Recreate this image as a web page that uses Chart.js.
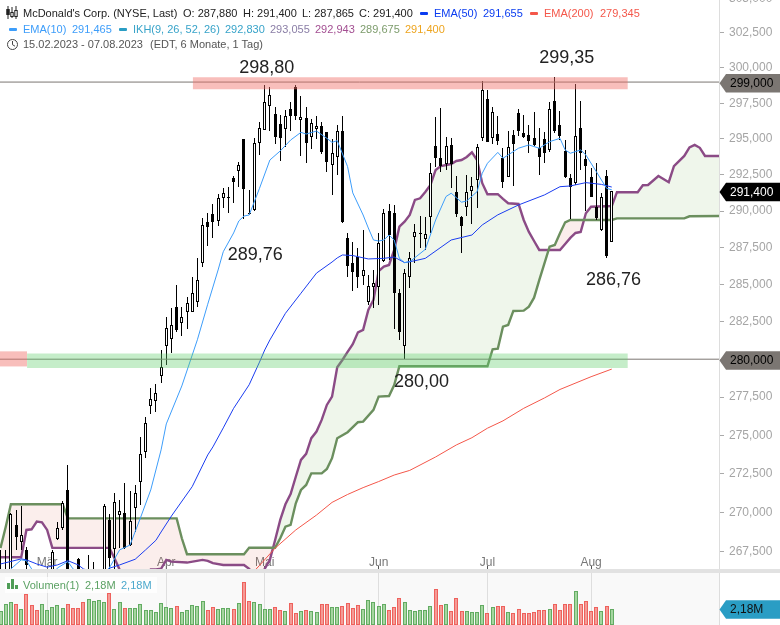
<!DOCTYPE html>
<html>
<head>
<meta charset="utf-8">
<title>McDonald's Corp.</title>
<script src="https://cdn.jsdelivr.net/npm/chart.js@4/dist/chart.umd.min.js"></script>
<style>
    body { margin: 0; background: #fff; font-family: "Liberation Sans", Arial, sans-serif; font-size: 11px; overflow: hidden; }
    canvas { position: absolute; left: 0; }
    #price { top: 0; }
    .t { position: absolute; white-space: pre; line-height: 13px; }
    .dash { position: absolute; width: 8px; height: 3px; border-radius: 1px; }
    #strip { position: absolute; left: 0; top: 569px; width: 780px; height: 4px; background: #e2e2e2; }
    #volbg { position: absolute; left: 0; top: 573px; width: 719px; height: 52px; background: #f9f9f9; border-right: 1px solid #ddd; }
    #volbox { position: absolute; left: 5px; top: 577px; width: 152px; height: 16px; background: rgba(255,255,255,0.75); }
    svg { position: absolute; }
</style>
</head>
<body>
<div id="volbg"></div>
<canvas id="price" width="780" height="570"></canvas>
<div id="strip"></div>
<canvas id="volume" width="780" height="52" style="top:573px"></canvas>
<div id="volbox"></div>

<svg style="left:6px;top:6px" width="12" height="13" viewBox="0 0 12 13" fill="none" stroke="#222">
    <path d="M2 0v13M6 1v11M10 0v13"/>
    <rect x="0.8" y="3.5" width="2.4" height="5" fill="#222"/>
    <rect x="4.8" y="6.5" width="2.4" height="4" fill="#fff"/>
    <rect x="8.8" y="4.5" width="2.4" height="6" fill="#fff"/>
</svg>
<span class="t" style="left:23px;top:7px;color:#222">McDonald's Corp. (NYSE, Last)</span>
<span class="t" style="left:183px;top:7px;color:#222">O: 287,880</span>
<span class="t" style="left:243px;top:7px;color:#222">H: 291,400</span>
<span class="t" style="left:302px;top:7px;color:#222">L: 287,865</span>
<span class="t" style="left:359px;top:7px;color:#222">C: 291,400</span>
<div class="dash" style="left:420px;top:12px;background:#0a3cf0"></div>
<span class="t" style="left:434px;top:7px;color:#0a3cf0">EMA(50)</span>
<span class="t" style="left:483px;top:7px;color:#0a3cf0">291,655</span>
<div class="dash" style="left:530px;top:12px;background:#f4574a"></div>
<span class="t" style="left:544px;top:7px;color:#f4574a">EMA(200)</span>
<span class="t" style="left:600px;top:7px;color:#f4574a">279,345</span>

<div class="dash" style="left:9px;top:28px;background:#3d9dfa"></div>
<span class="t" style="left:23px;top:23px;color:#3d9dfa">EMA(10)</span>
<span class="t" style="left:72px;top:23px;color:#3d9dfa">291,465</span>
<div class="dash" style="left:119px;top:28px;background:#2a9dc4"></div>
<span class="t" style="left:133px;top:23px;color:#37a3c9">IKH(9, 26, 52, 26)</span>
<span class="t" style="left:225px;top:23px;color:#37a3c9">292,830</span>
<span class="t" style="left:270px;top:23px;color:#8a7ea6">293,055</span>
<span class="t" style="left:315px;top:23px;color:#a34f92">292,943</span>
<span class="t" style="left:360px;top:23px;color:#7d9c6c">289,675</span>
<span class="t" style="left:405px;top:23px;color:#eda41e">291,400</span>

<svg style="left:6px;top:38px" width="13" height="13" viewBox="0 0 13 13" fill="none" stroke="#444">
    <circle cx="6.5" cy="6.5" r="5"/>
    <path d="M6.5 3v3.7l2.5 1.5"/>
</svg>
<span class="t" style="left:23px;top:38px;color:#555">15.02.2023 - 07.08.2023</span>
<span class="t" style="left:150px;top:38px;color:#555">(EDT, 6 Monate, 1 Tag)</span>

<svg style="left:7px;top:579px" width="12" height="10" fill="#4f9d57">
    <rect x="0" y="4" width="3" height="6"/><rect x="4" y="0" width="3" height="10"/><rect x="8" y="6" width="3" height="4"/>
</svg>
<span class="t" style="left:23px;top:579px;color:#5ba163">Volumen(1)</span>
<span class="t" style="left:85px;top:579px;color:#5ba163">2,18M</span>
<span class="t" style="left:121px;top:579px;color:#4ba8cc">2,18M</span>

<script>
// Candles, one entry per trading day from 15.02.2023 to 07.08.2023
const opens = [265.2, 265.5, 265.5, 269.22, 268.14, 267.63, 265.9, 265.0, 264.4, 264.3,
    265.4, 268.33, 269.03, 271.46, 265.5, 267.06, 265.9, 265.3, 265.5, 265.4,
    265.5, 269.54, 267.69, 269.85, 269.98, 267.95, 270.30, 271.97, 273.92, 276.92,
    277.24, 278.89, 280.88, 281.35, 283.48, 282.41, 283.15, 283.15, 283.82, 286.46,
    289.25, 289.80, 289.32, 290.90, 290.93, 292.29, 292.77, 294.99, 289.89, 290.08,
    294.72, 295.62, 297.31, 296.75, 296.05, 295.70, 297.10, 298.65, 296.33, 296.47,
    295.13, 295.70, 295.91, 295.48, 293.19, 293.74, 295.55, 288.16, 286.46, 286.86,
    285.58, 283.82, 284.83, 284.83, 286.61, 290.00, 289.85, 284.41, 280.90, 285.49,
    288.20, 288.47, 288.07, 289.62, 294.51, 293.65, 293.27, 294.58, 291.30, 289.58,
    290.26, 291.41, 292.15, 295.08, 297.78, 295.08, 295.32, 293.65, 292.33, 295.27,
    296.80, 295.39, 295.27, 295.04, 294.35, 294.97, 294.23, 297.66, 295.98, 294.16,
    292.26, 291.92, 295.74, 293.59, 292.33, 290.26, 288.71, 292.42, 287.88];
const highs = [267.63, 267.63, 270.00, 270.17, 270.43, 267.82, 266.2, 265.8, 265.6, 266.0,
    267.63, 269.41, 270.75, 273.07, 266.1, 267.1, 266.2, 267.31, 266.87, 266.3,
    270.56, 269.92, 271.27, 270.82, 271.91, 271.39, 271.78, 274.89, 276.20, 278.10,
    278.36, 280.62, 282.82, 283.42, 284.97, 283.48, 284.16, 285.51, 286.80, 289.53,
    289.87, 290.50, 291.18, 291.59, 291.66, 292.42, 293.40, 295.00, 291.46, 295.06,
    296.19, 298.80, 298.65, 297.24, 296.68, 297.03, 297.59, 298.78, 298.02, 297.24,
    296.40, 296.61, 296.19, 295.50, 294.99, 295.98, 296.61, 288.50, 287.88, 287.47,
    288.71, 285.64, 285.98, 288.50, 290.12, 290.47, 290.42, 284.68, 286.03, 287.22,
    289.12, 289.66, 289.58, 293.33, 296.56, 297.17, 295.15, 295.04, 292.42, 289.66,
    292.49, 292.38, 294.65, 299.08, 298.44, 297.26, 296.63, 294.35, 295.55, 295.62,
    297.13, 296.68, 295.98, 296.91, 295.74, 295.46, 297.57, 299.35, 296.98, 294.92,
    292.56, 298.85, 297.68, 294.23, 292.96, 293.33, 291.24, 292.84, 291.40];
const lows = [264.8, 264.9, 265.2, 267.63, 267.63, 266.05, 264.6, 263.9, 263.8, 263.9,
    265.0, 268.27, 268.90, 265.2, 264.5, 265.0, 264.7, 264.6, 264.8, 265.0,
    265.1, 266.24, 266.24, 267.75, 267.70, 267.88, 268.77, 270.49, 273.53, 276.40,
    276.53, 278.43, 279.62, 280.42, 281.82, 281.55, 282.01, 283.15, 283.48, 286.19,
    287.61, 288.16, 288.98, 290.21, 289.87, 290.55, 291.66, 289.46, 289.76, 290.01,
    293.88, 295.62, 295.55, 294.65, 293.47, 294.44, 295.55, 296.33, 293.81, 293.33,
    294.30, 294.99, 293.95, 292.70, 291.11, 292.49, 289.18, 285.51, 284.56, 284.76,
    284.97, 283.62, 283.42, 283.62, 286.54, 286.66, 281.99, 281.28, 280.00, 284.74,
    286.48, 287.45, 287.34, 288.48, 293.07, 292.72, 292.84, 291.57, 289.62, 287.11,
    289.68, 289.10, 290.23, 294.88, 294.81, 294.65, 294.58, 291.57, 292.33, 291.75,
    295.20, 295.04, 294.00, 294.50, 292.49, 293.31, 294.11, 295.39, 294.92, 292.26,
    289.46, 291.80, 292.84, 290.00, 290.99, 289.39, 288.66, 286.76, 287.865];
const closes = [266.1, 266.0, 269.92, 268.45, 268.58, 266.68, 265.0, 264.4, 265.2, 265.2,
    267.5, 269.03, 270.62, 265.6, 265.2, 265.8, 265.6, 265.7, 265.9, 265.8,
    270.43, 267.12, 270.69, 270.11, 267.75, 269.47, 271.27, 273.79, 275.80, 277.37,
    277.77, 279.49, 282.08, 282.28, 281.95, 282.82, 283.76, 284.43, 285.31, 289.05,
    288.91, 289.25, 290.90, 291.25, 290.95, 292.01, 293.19, 291.53, 289.80, 294.72,
    295.77, 297.59, 298.09, 295.13, 295.06, 296.61, 296.61, 296.61, 296.54, 294.72,
    296.12, 295.91, 294.09, 293.40, 294.02, 295.55, 289.25, 286.25, 285.85, 285.51,
    285.98, 284.90, 285.10, 287.82, 289.85, 288.36, 284.45, 281.83, 285.76, 286.77,
    288.55, 288.50, 288.41, 292.61, 293.65, 293.14, 294.51, 293.27, 289.80, 289.00,
    291.30, 291.73, 294.42, 298.44, 294.81, 296.87, 294.88, 292.03, 294.46, 294.65,
    295.58, 295.11, 294.85, 294.58, 293.77, 294.04, 297.08, 295.55, 295.20, 292.33,
    291.68, 295.20, 294.00, 293.11, 290.99, 289.51, 290.95, 286.95, 291.40];

// Volume in millions, same days as the candles
const volumes = [1.95, 2.88, 3.15, 2.88, 2.18, 4.27, 2.74, 2.04, 2.88, 2.04,
    2.46, 2.74, 2.32, 2.88, 2.32, 2.32, 3.15, 3.57, 3.29, 3.43,
    3.15, 4.41, 2.18, 3.15, 2.32, 2.32, 2.32, 2.88, 2.04, 2.04,
    1.76, 3.01, 2.46, 2.32, 2.60, 1.76, 2.04, 2.74, 2.60, 3.29,
    2.04, 2.46, 2.18, 2.32, 2.32, 2.18, 3.01, 5.94, 3.29, 3.15,
    2.88, 2.18, 2.18, 2.46, 2.04, 1.90, 3.01, 1.62, 1.90, 2.04,
    1.90, 1.76, 2.88, 2.88, 2.46, 2.46, 2.60, 3.01, 2.32, 2.74,
    2.18, 3.43, 3.20, 2.60, 2.88, 2.04, 2.46, 3.71, 3.15, 2.04,
    1.90, 2.04, 2.04, 2.60, 4.96, 2.74, 2.88, 1.90, 3.71, 1.90,
    1.90, 1.76, 1.76, 2.74, 1.62, 2.46, 2.60, 2.60, 1.76, 1.62,
    2.18, 1.62, 1.62, 1.76, 2.04, 2.04, 2.18, 2.88, 2.04, 2.88,
    2.88, 4.68, 2.88, 3.29, 1.90, 2.46, 1.90, 2.60, 2.18];

// Indicator lines, read at their corners: bar number and value
const spanBBars = [0, 1, 2, 12, 13, 34, 35, 36, 47, 48, 53, 54, 55, 56, 57, 58, 59, 60, 62, 63, 64, 65, 67, 69, 70, 72, 73, 75, 76, 77, 94, 95, 96, 97, 98, 99, 101, 102, 103, 104, 106, 107, 108, 109, 110, 118, 119, 132, 133, 144];
const spanBValues = [267.75, 269.09, 270.54, 270.54, 269.64, 269.64, 268.37, 267.36, 267.36, 267.77, 267.77, 268.37, 269.11, 269.22, 270.60, 271.46, 271.78, 272.53, 272.53, 272.81, 273.51, 274.81, 275.20, 275.85, 275.89, 276.66, 277.53, 277.57, 278.29, 279.53, 279.53, 280.66, 280.70, 282.17, 282.28, 283.22, 283.24, 283.51, 284.11, 285.30, 287.56, 287.68, 288.48, 289.23, 289.39, 289.39, 289.50, 289.50, 289.64, 289.675];
const spanABars = [0, 4, 5, 6, 7, 8, 9, 10, 21, 22, 23, 24, 26, 27, 29, 30, 31, 32, 33, 36, 39, 40, 41, 43, 47, 48, 49, 50, 51, 52, 53, 54, 55, 56, 57, 58, 59, 60, 61, 62, 63, 64, 65, 66, 67, 68, 69, 70, 71, 72, 73, 74, 75, 76, 77, 78, 79, 80, 81, 82, 83, 84, 85, 87, 88, 89, 90, 91, 92, 93, 94, 96, 97, 98, 100, 101, 102, 103, 104, 108, 109, 110, 111, 112, 113, 114, 118, 119, 123, 124, 125, 127, 129, 130, 132, 133, 134, 135, 136, 144];
const spanAValues = [267.17, 267.17, 268.90, 268.94, 269.43, 269.39, 268.90, 267.76, 267.76, 267.10, 266.37, 265.9, 265.5, 265.5, 266.40, 266.40, 266.44, 267.00, 266.89, 266.83, 267.00, 266.94, 266.79, 266.68, 266.68, 266.43, 266.0, 266.0, 266.43, 267.00, 268.24, 269.54, 270.54, 271.20, 272.31, 273.40, 273.79, 274.81, 275.24, 276.00, 276.98, 277.53, 279.47, 279.95, 280.48, 281.00, 281.79, 281.95, 283.29, 283.96, 285.90, 286.21, 286.32, 287.34, 288.93, 289.27, 289.73, 290.77, 290.88, 291.32, 291.80, 292.84, 293.11, 293.25, 293.46, 293.53, 293.74, 294.06, 293.53, 291.92, 291.16, 291.16, 290.84, 290.54, 290.49, 289.39, 288.57, 287.95, 287.34, 287.34, 287.75, 288.16, 288.50, 288.57, 289.85, 290.30, 290.35, 291.30, 291.30, 291.78, 291.80, 292.42, 291.99, 293.11, 293.81, 294.41, 294.58, 294.38, 293.81, 293.81];

const ema10Bars = [1, 2, 4, 5, 6, 8, 9, 10, 11, 13, 14, 16, 19, 21, 23, 25, 27, 29, 31, 32, 35, 38, 40, 42, 43, 45, 46, 47, 48, 50, 52, 54, 56, 58, 59, 61, 63, 64, 65, 67, 68, 70, 71, 72, 73, 74, 75, 76, 77, 78, 79, 82, 84, 86, 87, 89, 90, 92, 93, 94, 96, 97, 100, 102, 104, 106, 108, 109, 110, 112, 113, 115, 117, 118];
const ema10Values = [265.8, 266.43, 267.00, 266.95, 266.43, 265.8, 265.7, 266.0, 266.49, 266.89, 266.43, 265.9, 265.9, 266.49, 267.63, 267.94, 269.66, 271.46, 274.05, 275.74, 278.23, 281.29, 283.67, 285.98, 287.22, 288.50, 289.32, 289.66, 289.73, 291.57, 293.53, 294.16, 294.92, 295.46, 295.34, 295.55, 295.04, 294.76, 294.88, 293.07, 291.25, 289.73, 288.84, 288.02, 287.95, 288.02, 288.36, 288.02, 286.77, 286.48, 286.54, 287.38, 289.39, 291.00, 291.23, 290.61, 290.70, 291.34, 292.61, 293.30, 294.06, 293.65, 294.35, 294.58, 294.35, 294.81, 295.04, 294.23, 294.00, 294.23, 293.88, 292.73, 291.57, 291.465];
const ema50Bars = [0, 4, 5, 7, 9, 11, 13, 15, 16, 18, 20, 21, 23, 26, 28, 30, 31, 33, 37, 40, 41, 43, 45, 48, 50, 51, 52, 55, 58, 61, 64, 65, 66, 68, 71, 74, 76, 78, 80, 82, 87, 91, 93, 96, 100, 105, 108, 110, 113, 116, 118];
const ema50Values = [266.74, 267.06, 267.00, 266.74, 266.54, 266.68, 266.95, 266.68, 266.43, 266.2, 266.2, 266.47, 266.68, 267.04, 267.63, 268.24, 268.77, 269.79, 271.67, 273.72, 274.24, 275.48, 276.76, 278.31, 279.81, 280.61, 281.28, 283.06, 284.41, 285.77, 286.52, 286.80, 287.00, 286.96, 286.73, 286.77, 286.86, 286.48, 286.61, 286.77, 288.02, 288.36, 289.05, 289.74, 290.42, 291.11, 291.68, 291.73, 291.96, 291.84, 291.655];
const ema200Bars = [49, 50, 53, 57, 61, 64, 67, 70, 73, 76, 79, 84, 88, 91, 94, 97, 101, 105, 108, 114, 118];
const ema200Values = [266.30, 266.65, 267.74, 268.90, 269.85, 270.66, 271.17, 271.61, 272.00, 272.42, 272.72, 273.59, 274.37, 274.84, 275.46, 275.94, 276.76, 277.44, 278.00, 278.84, 279.345];

// Resistance and support: level lines and the shaded zones around them
const levelValues = [299, 280];
const redZoneBars = [37.1, 121.1];
const redZoneValues = [299.34, 298.49];
const oldRedZoneBars = [-0.1, 5.12];
const oldRedZoneValues = [280.52, 279.52];
const greenZoneBars = [5.12, 121.1];
const greenZoneValues = [280.38, 279.42];

// Axis ticks
const yTicks = [305, 302.5, 300, 297.5, 295, 292.5, 290, 287.5, 285, 282.5, 280, 277.5, 275, 272.5, 270, 267.5];
const monthBars = [9, 32, 51, 73, 94, 114];
const monthLabels = ['Mär', 'Apr', 'Mai', 'Jun', 'Jul', 'Aug'];

// Price tags on the right axis and pivot labels on the chart
const tagValues = [299, 291.4, 280];
const volumeTag = 2.18;
const pivotBars = [51, 107, 48, 117, 78];
const pivotValues = [298.80, 299.35, 289.76, 286.76, 280.00];

const FONT = '"Liberation Sans", Arial, sans-serif';
const BAR_MIN = -0.1;
const BAR_MAX = 138.7;

const toPoints = (bars, values) => bars.map((bar, i) => ({ x: bar, y: values[i] }));
const fmtPrice = value => value.toFixed(3).replace('.', ',');

function lineSet(bars, values, color, width, order) {
    return {
        type: 'line',
        data: toPoints(bars, values),
        borderColor: color,
        borderWidth: width,
        pointRadius: 0,
        tension: 0,
        fill: false,
        order: order
    };
}

function zoneSets(bars, values, color, order) {
    const hi = bars.map(bar => ({ x: bar, y: values[0] }));
    const lo = bars.map(bar => ({ x: bar, y: values[1] }));
    return [
        { type: 'line', data: hi, borderWidth: 0, borderColor: 'transparent', pointRadius: 0, fill: false, order: order },
        { type: 'line', data: lo, borderWidth: 0, borderColor: 'transparent', pointRadius: 0, fill: '-1', backgroundColor: color, order: order }
    ];
}

// Draw the little arrow shaped tag at the right of a pane
function drawTag(ctx, y, fill, color, text) {
    const top = y - 9;
    const bottom = y + 9.5;
    ctx.save();
    ctx.beginPath();
    ctx.moveTo(719.5, y + 0.2);
    ctx.lineTo(726, top);
    ctx.lineTo(780, top);
    ctx.lineTo(780, bottom);
    ctx.lineTo(726, bottom);
    ctx.closePath();
    ctx.fillStyle = fill;
    ctx.fill();
    ctx.fillStyle = color;
    ctx.font = '12px ' + FONT;
    ctx.textAlign = 'left';
    ctx.textBaseline = 'middle';
    ctx.fillText(text, 730, y + 0.7);
    ctx.restore();
}

// Snap bars to whole pixels so candles and wicks stay crisp
const snapBars = {
    id: 'snapBars',
    afterDatasetsUpdate(chart, args, opts) {
        chart.getSortedVisibleDatasetMetas().forEach(meta => {
            if (meta.type !== 'bar') return;
            meta.data.forEach(el => {
                el.x = opts.half ? Math.floor(el.x) + 0.5 : Math.round(el.x);
                el.y = Math.round(el.y);
                el.base = Math.round(el.base);
                if (el.y === el.base) el.base = el.y + 1;
            });
        });
    }
};

const priceLabels = {
    id: 'priceLabels',
    afterDraw(chart) {
        const ctx = chart.ctx;
        const xs = chart.scales.x;
        const ys = chart.scales.y;
        const tagFill = ['#7b7672', '#000', '#7b7672'];
        const tagText = ['#000', '#fff', '#000'];
        tagValues.forEach((value, i) => {
            drawTag(ctx, ys.getPixelForValue(value) + 1, tagFill[i], tagText[i], fmtPrice(value));
        });

        // offsets from the pivot to the centre of its text
        const shiftX = [2, 12, 6, 7, 17];
        const shiftY = [-17, -19, 40, 22, 23];
        ctx.save();
        ctx.fillStyle = '#222';
        ctx.font = '18px ' + FONT;
        ctx.textAlign = 'center';
        ctx.textBaseline = 'middle';
        pivotBars.forEach((bar, i) => {
            const x = xs.getPixelForValue(bar) + shiftX[i];
            const y = ys.getPixelForValue(pivotValues[i]) + shiftY[i];
            ctx.fillText(pivotValues[i].toFixed(2).replace('.', ','), x, y);
        });
        ctx.restore();
    }
};

const volumeLabels = {
    id: 'volumeLabels',
    afterDraw(chart) {
        const y = chart.scales.y.getPixelForValue(volumeTag);
        drawTag(chart.ctx, y, '#2a9dc4', '#111', volumeTag.toFixed(2).replace('.', ',') + 'M');
    }
};

const isUp = i => closes[i] >= opens[i];

function setupPriceChart() {
    const wicks = opens.map((_, i) => ({ x: i, y: [lows[i], highs[i]] }));
    const bodies = opens.map((_, i) => ({ x: i, y: [opens[i], closes[i]] }));
    const spanB = lineSet(spanBBars, spanBValues, '#6b8f5e', 2.4, 60);
    const spanA = lineSet(spanABars, spanAValues, '#8b4b86', 2.4, 61);
    spanA.fill = { target: 0, above: 'rgba(110,175,70,0.11)', below: 'rgba(220,90,70,0.1)' };

    new Chart(document.getElementById('price'), {
        data: {
            datasets: [
                spanB,
                spanA,
                {
                    type: 'bar',
                    data: wicks,
                    barThickness: 1,
                    inflateAmount: 0,
                    grouped: false,
                    backgroundColor: '#000',
                    order: 50
                },
                {
                    type: 'bar',
                    data: bodies,
                    barThickness: 3,
                    inflateAmount: 0,
                    grouped: false,
                    borderWidth: 1,
                    borderSkipped: false,
                    borderColor: '#000',
                    backgroundColor: opens.map((_, i) => isUp(i) ? '#fff' : '#000'),
                    order: 49
                },
                lineSet(ema200Bars, ema200Values, '#f4574a', 1, 40),
                lineSet(ema50Bars, ema50Values, '#1a3cf0', 1, 39),
                lineSet(ema10Bars, ema10Values, '#3d9dfa', 1, 38),
                lineSet([BAR_MIN, BAR_MAX], [levelValues[0], levelValues[0]], '#7b7672', 1, 30),
                lineSet([BAR_MIN, BAR_MAX], [levelValues[1], levelValues[1]], '#7b7672', 1, 30),
                ...zoneSets(redZoneBars, redZoneValues, 'rgba(240,110,105,0.45)', 20),
                ...zoneSets(oldRedZoneBars, oldRedZoneValues, 'rgba(240,110,105,0.45)', 20),
                ...zoneSets(greenZoneBars, greenZoneValues, 'rgba(95,205,105,0.36)', 20)
            ]
        },
        options: {
            responsive: false,
            animation: false,
            layout: { padding: 0 },
            plugins: {
                legend: { display: false },
                tooltip: { enabled: false },
                snapBars: { half: true }
            },
            scales: {
                x: {
                    type: 'linear',
                    offset: false,
                    min: BAR_MIN,
                    max: BAR_MAX,
                    bounds: 'data',
                    afterBuildTicks: axis => { axis.ticks = monthBars.map(value => ({ value })); },
                    afterFit: axis => {
                        axis.height = 0;
                        axis.paddingLeft = 0;
                        axis.paddingRight = 0;
                    },
                    grid: { offset: false, drawOnChartArea: false, tickLength: -4, tickColor: '#555' },
                    border: { display: false },
                    ticks: {
                        autoSkip: false,
                        maxRotation: 0,
                        mirror: true,
                        padding: 0,
                        color: '#777',
                        font: { family: FONT, size: 12 },
                        callback: value => monthLabels[monthBars.indexOf(value)]
                    }
                },
                y: {
                    type: 'logarithmic',
                    position: 'right',
                    min: 266.36,
                    max: 304.87,
                    bounds: 'data',
                    afterBuildTicks: axis => { axis.ticks = yTicks.map(value => ({ value })); },
                    afterFit: axis => {
                        axis.width = 61;
                        axis.paddingTop = 0;
                        axis.paddingBottom = 0;
                    },
                    grid: { drawOnChartArea: false, tickLength: 5, tickColor: '#aaa' },
                    border: { color: '#ddd' },
                    ticks: {
                        autoSkip: false,
                        padding: 5,
                        color: '#a5a5a5',
                        font: { family: FONT, size: 12 },
                        callback: fmtPrice
                    }
                }
            }
        },
        plugins: [snapBars, priceLabels]
    });
}

function setupVolumeChart() {
    new Chart(document.getElementById('volume'), {
        data: {
            datasets: [{
                type: 'bar',
                data: volumes.map((value, i) => ({ x: i, y: value })),
                barThickness: 4,
                inflateAmount: 0,
                borderWidth: 1,
                borderSkipped: false,
                borderColor: opens.map((_, i) => isUp(i) ? '#62ab62' : '#ee615c'),
                backgroundColor: opens.map((_, i) => isUp(i) ? '#a5d6a0' : '#f59a96')
            }]
        },
        options: {
            responsive: false,
            animation: false,
            layout: { padding: { right: 61 } },
            plugins: {
                legend: { display: false },
                tooltip: { enabled: false },
                snapBars: { half: false }
            },
            scales: {
                x: {
                    type: 'linear',
                    offset: false,
                    min: BAR_MIN,
                    max: BAR_MAX,
                    bounds: 'data',
                    afterBuildTicks: axis => { axis.ticks = monthBars.map(value => ({ value })); },
                    afterFit: axis => { axis.height = 0; },
                    grid: { offset: false, color: '#dedede', drawTicks: false, z: -1 },
                    border: { display: false },
                    ticks: { display: false }
                },
                y: {
                    min: 0,
                    max: 7.23,
                    display: false
                }
            }
        },
        plugins: [snapBars, volumeLabels]
    });
}

setupPriceChart();
setupVolumeChart();
</script>
</body>
</html>
